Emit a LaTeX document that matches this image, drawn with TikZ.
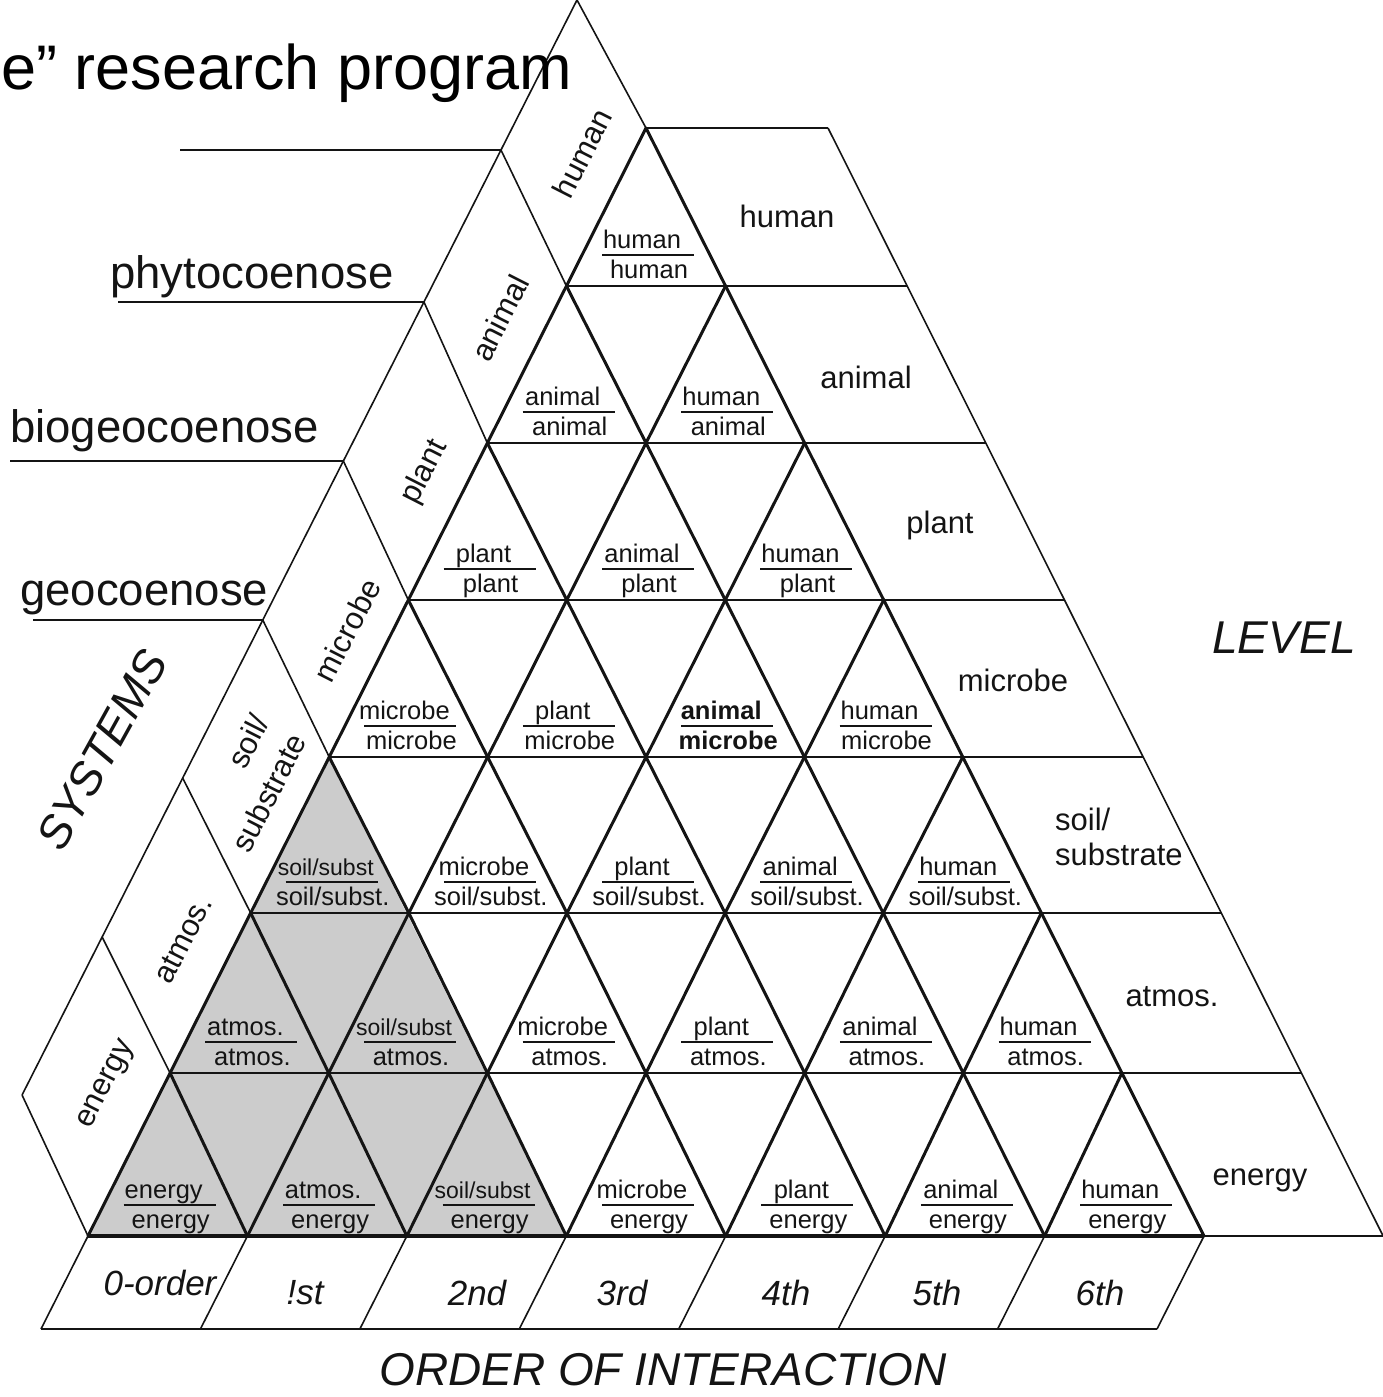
\documentclass[tikz,border=0pt]{standalone}
\usepackage{fontspec}
\setmainfont{Liberation Sans}
\usetikzlibrary{calc}
\definecolor{cellgray}{gray}{0.80}
\definecolor{ink}{gray}{0.08}
% level names: upper word (interacting level) and lower word (row level)
\newcommand\upperlevel[1]{\ifcase#1 human\or animal\or plant\or microbe\or {\fontsize{23}{25}\selectfont soil/subst}\or atmos.\or energy\fi}
\newcommand\lowerlevel[1]{\ifcase#1 human\or animal\or plant\or microbe\or soil/subst.\or atmos.\or energy\fi}
\begin{document}
\begin{tikzpicture}[x=1pt,y=-1pt,
  gridline/.style={draw=ink,line width=3pt,line cap=round},
  rowline/.style={draw=ink,line width=2.2pt},
  baseline/.style={draw=ink,line width=4pt},
  stripline/.style={draw=ink,line width=1.6pt},
  underline/.style={draw=ink,line width=2.4pt},
  barline/.style={draw=ink,line width=2pt},
  cellword/.style={font=\fontsize{25.5}{28}\selectfont,text=ink,inner sep=0pt,anchor=base},
  levellabel/.style={font=\fontsize{31}{38}\selectfont,text=ink,inner sep=0pt},
  systemlabel/.style={font=\fontsize{45.5}{50}\selectfont,text=ink,inner sep=0pt,anchor=base west},
  axislabel/.style={font=\fontsize{46}{50}\selectfont\itshape,text=ink,inner sep=0pt},
  orderlabel/.style={font=\fontsize{35}{40}\selectfont\itshape,text=ink,inner sep=0pt}
]
\useasboundingbox (0,0) rectangle (1383,1397);

% ---- vertices of the triangular grid (row r, position j) and right strip ends
\foreach \r/\y in {0/128,1/286,2/443,3/600,4/757,5/913,6/1073,7/1236} {
  \pgfmathsetmacro\hw{(\y-128)/1108*558}
  \foreach \j in {0,...,\r} {
    \pgfmathsetmacro\xx{646+(2*\j-\r)*\hw/max(\r,1)}
    \coordinate (V-\r-\j) at (\xx,\y);
  }
  \pgfmathsetmacro\xr{828+0.501*(\y-128)}
  \coordinate (R-\r) at (\xr,\y);
}
% ---- outer edge of the left (systems) strip
\foreach \r/\y in {0/0,1/150,2/302,3/461,4/620,5/778,6/937,7/1095} {
  \pgfmathsetmacro\xo{577-0.5068*\y}
  \coordinate (O-\r) at (\xo,\y);
}
% ---- lower edge of the order strip
\foreach \j in {0,...,7} {
  \coordinate (B-\j) at ($(V-7-\j)+(-47,93)$);
}

% ---- shaded sub-triangle (orders 0 to 2 of the three lowest levels)
\fill[cellgray] (V-4-0) -- (V-7-0) -- (V-7-3) -- cycle;

% ---- horizontal level lines
\draw[stripline] (V-0-0) -- (R-0);
\foreach \r in {1,...,6} { \draw[rowline] (V-\r-0) -- (R-\r); }
\draw[rowline] (V-7-7) -- (R-7);
\draw[stripline] (R-0) -- (R-7);

% ---- slanted grid lines
\foreach \r in {0,...,6} {
  \pgfmathtruncatemacro\rn{\r+1}
  \foreach \k in {0,...,\r} {
    \pgfmathtruncatemacro\kn{\k+1}
    \draw[gridline] (V-\r-\k) -- (V-\rn-\k);
    \draw[gridline] (V-\r-\k) -- (V-\rn-\kn);
  }
}
\draw[baseline] (V-7-0) -- (V-7-7);

% ---- left strip
\draw[stripline] (O-0) -- (O-7);
\draw[stripline] (O-0) -- (V-0-0);
\foreach \r in {1,...,7} { \draw[stripline] (O-\r) -- (V-\r-0); }

% ---- order strip
\draw[stripline] (B-0) -- (B-7);
\foreach \j in {0,...,7} { \draw[stripline] (V-7-\j) -- (B-\j); }

% ---- system lines on the far left
\coordinate (L-1) at (180,150);
\coordinate (L-2) at (118,302);
\coordinate (L-3) at (10,461);
\coordinate (L-4) at (33,620);
\draw[stripline] (L-1) -- (O-1);
\draw[underline] (L-2) -- (O-2);
\draw[underline] (L-3) -- (O-3);
\draw[underline] (L-4) -- (O-4);
\node[systemlabel] (phyto) at (110,288) {phytocoenose};
\node[systemlabel] (biogeo) at (10,442) {biogeocoenose};
\node[systemlabel] (geo) at (20,605) {geocoenose};

% ---- title line
\node[font=\fontsize{63}{70}\selectfont,anchor=base east,inner sep=0pt] (title) at (572,89) {e” research program};

% ---- cell labels (upper: interacting level, lower: row level)
\foreach \r in {0,...,6} {
  \pgfmathtruncatemacro\rn{\r+1}
  \foreach \k in {0,...,\r} {
    \pgfmathtruncatemacro\kn{\k+1}
    \pgfmathtruncatemacro\up{\r-\k}
    \coordinate (M-\r-\k) at ($(V-\rn-\k)!0.5!(V-\rn-\kn)$);
    \coordinate (BL-\r-\k) at ($(M-\r-\k)+(-44,-31)$);
    \coordinate (BR-\r-\k) at ($(M-\r-\k)+(48,-31)$);
    \draw[barline] (BL-\r-\k) -- (BR-\r-\k);
    \node[cellword] (T-\r-\k) at ($(M-\r-\k)+(-4,-38)$) {\ifnum\r\k=32 \bfseries\fi\upperlevel{\up}};
    \node[cellword] (U-\r-\k) at ($(M-\r-\k)+(3,-8)$) {\ifnum\r\k=32 \bfseries\fi\lowerlevel{\r}};
  }
}

% ---- level labels, right strip
\node[levellabel] (lv-0) at (787,216) {human};
\node[levellabel] (lv-1) at (866,377) {animal};
\node[levellabel] (lv-2) at (940,525) {plant};
\node[levellabel] (lv-3) at (1013,680) {microbe};
\node[levellabel,align=left,anchor=north west,font=\fontsize{31}{35}\selectfont] (lv-4) at (1055,808) {soil/\\substrate};
\node[levellabel] (lv-5) at (1172,997) {atmos.};
\node[levellabel] (lv-6) at (1260,1180) {energy};

% ---- level labels, left strip
\node[levellabel,rotate=63] (sv-0) at (582,153) {human};
\node[levellabel,rotate=63] (sv-1) at (500,318) {animal};
\node[levellabel,rotate=63] (sv-2) at (425,472) {plant};
\node[levellabel,rotate=63] (sv-3) at (347,630) {microbe};
\node[levellabel,rotate=63,align=right,font=\fontsize{31}{42}\selectfont] (sv-4) at (250,783) {soil/\\substrate};
\node[levellabel,rotate=63] (sv-5) at (183,940) {atmos.};
\node[levellabel,rotate=63] (sv-6) at (107,1085) {energy};

% ---- order labels
\node[orderlabel] (o-0) at (160,1283) {0-order};
\node[orderlabel] (o-1) at (305,1293) {!st};
\node[orderlabel] (o-2) at (477,1293) {2nd};
\node[orderlabel] (o-3) at (622,1293) {3rd};
\node[orderlabel] (o-4) at (786,1293) {4th};
\node[orderlabel] (o-5) at (937,1293) {5th};
\node[orderlabel] (o-6) at (1100,1293) {6th};

% ---- axis titles
\node[axislabel] (level) at (1284,638) {LEVEL};
\node[axislabel] (order) at (663,1370) {ORDER OF INTERACTION};
\node[axislabel,rotate=61] (systems) at (102,750) {SYSTEMS};
\end{tikzpicture}
\end{document}
